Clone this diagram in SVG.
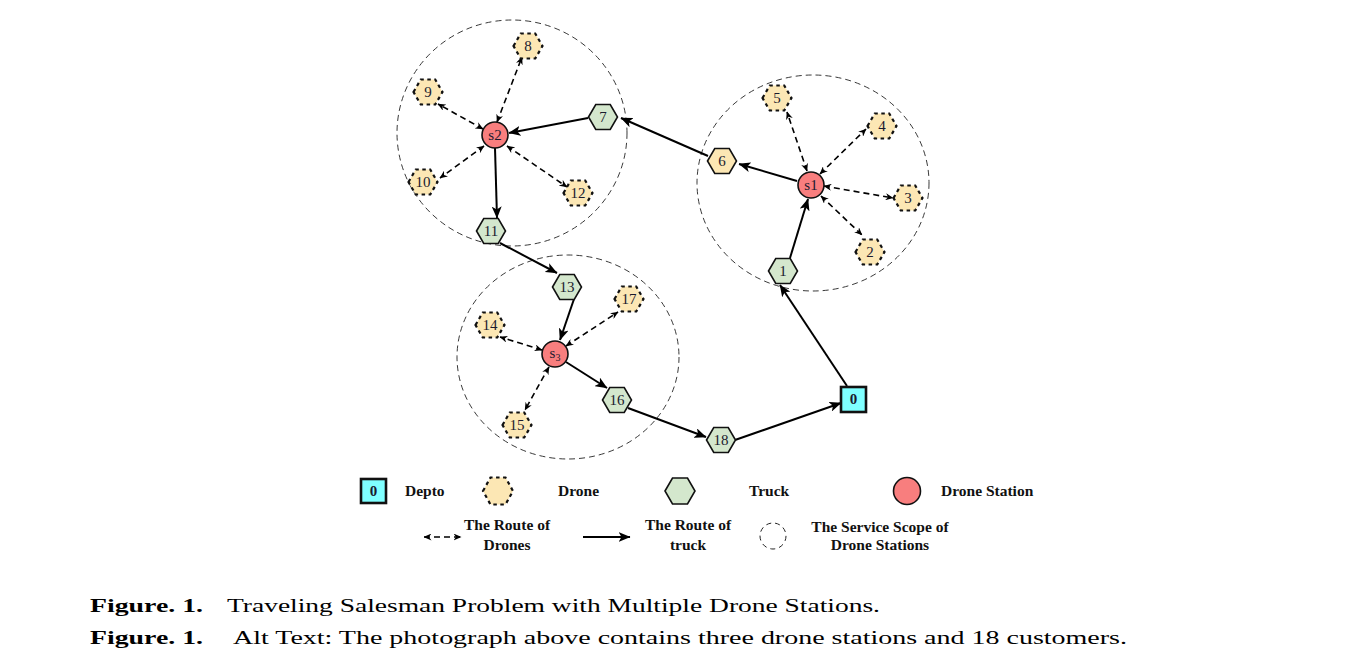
<svg xmlns="http://www.w3.org/2000/svg" width="1345" height="663" viewBox="0 0 1345 663" font-family="'Liberation Serif', 'Times New Roman', serif">
<style>
.scope{fill:none;stroke:#222;stroke-width:0.9;stroke-dasharray:6,4}
.drone{fill:#FCE7B4;stroke:#111;stroke-width:2.2;stroke-dasharray:3.5,3.5}
.truck{fill:#D4E7CD;stroke:#111;stroke-width:1.6}
.station{fill:#F87E7E;stroke:#111;stroke-width:1.6}
.depot{fill:#7FFFFF;stroke:#111;stroke-width:2.6}
text{font-family:'Liberation Serif','Times New Roman',serif}
.lbl{font-size:15px;fill:#1a1a2e;text-anchor:middle}
.tr{fill:none;stroke:#000;stroke-width:2;marker-end:url(#ah)}
.dr{fill:none;stroke:#000;stroke-width:1.6;stroke-dasharray:6,4;marker-end:url(#sh);marker-start:url(#sh)}
.leg{font-size:15.5px;font-weight:bold;fill:#111}
.legc{font-size:15.5px;font-weight:bold;fill:#111;text-anchor:middle}
.cap{font-size:19.5px;fill:#000}
</style>
<defs>
<marker id="ah" viewBox="0 0 12 10" refX="11.5" refY="5" markerWidth="12" markerHeight="10" markerUnits="userSpaceOnUse" orient="auto"><path d="M0,0 L12,5 L0,10 L3,5 z" fill="#000"/></marker>
<marker id="sh" viewBox="0 0 8 7" refX="7.5" refY="3.5" markerWidth="8" markerHeight="7" markerUnits="userSpaceOnUse" orient="auto-start-reverse"><path d="M0,0 L8,3.5 L0,7 L2.5,3.5 z" fill="#000"/></marker>
<polygon id="hex" points="-14.5,0 -7.25,-12.5 7.25,-12.5 14.5,0 7.25,12.5 -7.25,12.5"/>
</defs>
<rect width="1345" height="663" fill="#fff"/>

<g id="scopes">
<ellipse class="scope" cx="512" cy="133" rx="115" ry="113"/>
<ellipse class="scope" cx="813" cy="183" rx="116" ry="108"/>
<ellipse class="scope" cx="568" cy="357" rx="111" ry="102"/>
</g>

<g id="connectors">
<line class="tr" x1="847" y1="386" x2="780" y2="285"/>
<line class="tr" x1="790" y1="258" x2="808" y2="199"/>
<line class="tr" x1="797" y1="181" x2="739" y2="164"/>
<line class="tr" x1="708" y1="156" x2="621" y2="118"/>
<line class="tr" x1="588" y1="118" x2="509" y2="133"/>
<line class="tr" x1="495" y1="148" x2="497" y2="218"/>
<line class="tr" x1="500" y1="243" x2="557" y2="273"/>
<line class="tr" x1="574" y1="299" x2="560" y2="340"/>
<line class="tr" x1="566" y1="362" x2="607" y2="388"/>
<line class="tr" x1="628" y1="408" x2="706" y2="437"/>
<line class="tr" x1="735" y1="440" x2="841" y2="403"/>

<line class="dr" x1="497" y1="122" x2="522" y2="57"/>
<line class="dr" x1="483" y1="129" x2="438" y2="104"/>
<line class="dr" x1="484" y1="146" x2="440" y2="178"/>
<line class="dr" x1="507" y1="146" x2="567" y2="187"/>

<line class="dr" x1="807" y1="171" x2="787" y2="112"/>
<line class="dr" x1="820" y1="174" x2="866" y2="129"/>
<line class="dr" x1="824" y1="186" x2="893" y2="198"/>
<line class="dr" x1="821" y1="196" x2="862" y2="235"/>

<line class="dr" x1="542" y1="350" x2="500" y2="337"/>
<line class="dr" x1="566" y1="346" x2="618" y2="312"/>
<line class="dr" x1="549" y1="367" x2="525" y2="410"/>
</g>

<g id="n8"><use href="#hex" class="drone" x="528" y="46"/><text class="lbl" x="528" y="51">8</text></g>
<g id="n9"><use href="#hex" class="drone" x="428" y="92"/><text class="lbl" x="428" y="97">9</text></g>
<g id="n10"><use href="#hex" class="drone" x="423" y="182"/><text class="lbl" x="423" y="187">10</text></g>
<g id="n12"><use href="#hex" class="drone" x="578" y="193"/><text class="lbl" x="578" y="198">12</text></g>
<g id="n5"><use href="#hex" class="drone" x="777" y="98"/><text class="lbl" x="777" y="103">5</text></g>
<g id="n4"><use href="#hex" class="drone" x="882" y="126"/><text class="lbl" x="882" y="131">4</text></g>
<g id="n3"><use href="#hex" class="drone" x="908" y="198"/><text class="lbl" x="908" y="203">3</text></g>
<g id="n2"><use href="#hex" class="drone" x="870" y="252"/><text class="lbl" x="870" y="257">2</text></g>
<g id="n14"><use href="#hex" class="drone" x="490" y="325"/><text class="lbl" x="490" y="330">14</text></g>
<g id="n17"><use href="#hex" class="drone" x="629" y="299"/><text class="lbl" x="629" y="304">17</text></g>
<g id="n15"><use href="#hex" class="drone" x="517" y="425"/><text class="lbl" x="517" y="430">15</text></g>

<g id="n7"><use href="#hex" class="truck" x="603" y="117"/><text class="lbl" x="603" y="122">7</text></g>
<g id="n11"><use href="#hex" class="truck" x="491" y="231"/><text class="lbl" x="491" y="236">11</text></g>
<g id="n6"><use href="#hex" class="drone" style="stroke-dasharray:none;stroke-width:1.6" x="722" y="161"/><text class="lbl" x="722" y="166">6</text></g>
<g id="n1"><use href="#hex" class="truck" x="783" y="271"/><text class="lbl" x="783" y="276">1</text></g>
<g id="n13"><use href="#hex" class="truck" x="567" y="287"/><text class="lbl" x="567" y="292">13</text></g>
<g id="n16"><use href="#hex" class="truck" x="617" y="400"/><text class="lbl" x="617" y="405">16</text></g>
<g id="n18"><use href="#hex" class="truck" x="721" y="440"/><text class="lbl" x="721" y="445">18</text></g>

<g id="s2"><circle class="station" cx="495" cy="135" r="13"/><text class="lbl" x="495" y="140">s2</text></g>
<g id="s1"><circle class="station" cx="811" cy="185" r="13"/><text class="lbl" x="811" y="190">s1</text></g>
<g id="s3"><circle class="station" cx="555" cy="354" r="13"/><text class="lbl" x="555" y="358">s<tspan font-size="10" dy="3">3</tspan></text></g>

<g id="n0"><rect class="depot" x="841" y="387" width="25" height="25"/><text class="lbl" x="853.5" y="404" style="font-weight:bold">0</text></g>

<g id="legend">
<rect class="depot" x="361" y="479" width="25" height="24"/><text class="lbl" x="373.5" y="496" style="font-weight:bold">0</text>
<text class="leg" x="405" y="496">Depto</text>
<polygon class="drone" points="483,491 490.5,477.5 505.5,477.5 513,491 505.5,504.5 490.5,504.5"/>
<text class="leg" x="558" y="496">Drone</text>
<polygon class="truck" points="665,491 672.5,478 687.5,478 695,491 687.5,504 672.5,504"/>
<text class="leg" x="749" y="496">Truck</text>
<circle class="station" cx="907" cy="491" r="13.5"/>
<text class="leg" x="941" y="496">Drone Station</text>
<line class="dr" x1="424" y1="537" x2="461" y2="537"/>
<text class="legc" x="507" y="530">The Route of</text>
<text class="legc" x="507" y="550">Drones</text>
<line class="tr" x1="583" y1="537" x2="630" y2="537"/>
<text class="legc" x="688" y="530">The Route of</text>
<text class="legc" x="688" y="550">truck</text>
<circle cx="773" cy="536" r="13" fill="none" stroke="#222" stroke-width="1" stroke-dasharray="5,4"/>
<text class="legc" x="880" y="532">The Service Scope of</text>
<text class="legc" x="880" y="550">Drone Stations</text>
</g>

<g id="caption">
<text class="cap" x="90" y="612" font-weight="bold" textLength="113" lengthAdjust="spacingAndGlyphs">Figure. 1.</text>
<text class="cap" x="227" y="612" textLength="653" lengthAdjust="spacingAndGlyphs">Traveling Salesman Problem with Multiple Drone Stations.</text>
<text class="cap" x="90" y="644" font-weight="bold" textLength="113" lengthAdjust="spacingAndGlyphs">Figure. 1.</text>
<text class="cap" x="233" y="644" textLength="894" lengthAdjust="spacingAndGlyphs">Alt Text: The photograph above contains three drone stations and 18 customers.</text>
</g>
</svg>
